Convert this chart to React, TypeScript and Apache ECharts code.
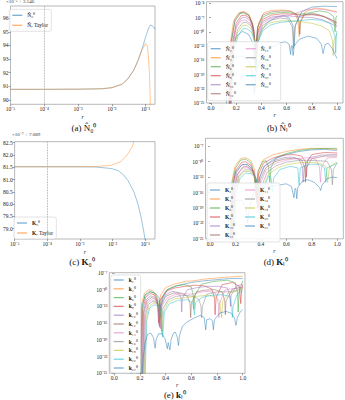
import { useEffect, useRef } from "react";
import * as echarts from "echarts";

// ---------- panel (a): N̂₀⁰ vs Taylor, values are (N − 3.546)·1e5 ----------
const n0ExactR = [1e-5, 1e-4, 1e-3, 5e-3, 1e-2, 2e-2, 3e-2, 4.5e-2, 6e-2, 8e-2, 0.1, 0.12, 0.14, 0.16, 0.19];
const n0Exact = [90.78, 90.78, 90.79, 90.82, 90.9, 91.15, 91.55, 92.2, 92.9, 93.8, 94.6, 95.2, 95.5, 95.45, 95.2];
const n0TaylorR = [1e-5, 1e-4, 1e-3, 5e-3, 1e-2, 2e-2, 3e-2, 4.5e-2, 6e-2, 8e-2, 0.1, 0.112, 0.122, 0.13, 0.136, 0.14];
const n0Taylor = [90.78, 90.78, 90.79, 90.82, 90.9, 91.15, 91.55, 92.2, 92.9, 93.7, 94.15, 94.0, 93.2, 92.0, 90.5, 89.4];

// ---------- panel (c): K₀⁰ vs Taylor, values are (K − 7.089)·1e7 ----------
const k0ExactR = [1e-5, 1e-4, 1e-3, 3e-3, 9e-3, 1.5e-2, 2.2e-2, 3e-2, 4.5e-2, 6e-2, 7.5e-2, 9e-2, 0.1];
const k0Exact = [81.52, 81.52, 81.52, 81.51, 81.45, 81.36, 81.18, 80.95, 80.5, 80.0, 79.45, 78.9, 78.5];
const k0TaylorR = [1e-5, 1e-4, 1e-3, 3e-3, 9e-3, 1.8e-2, 2.8e-2, 4e-2, 4.6e-2];
const k0Taylor = [81.52, 81.52, 81.52, 81.53, 81.58, 81.73, 82.0, 82.34, 82.6];

// ---------- panel (b): |N̂ℓ⁰| as [r, log10 value] ----------
const nHat2 = [[0.155,-26],[0.17,-14],[0.2,-11],[0.25,-9.9],[0.3,-10.6],[0.33,-12.3],[0.355,-18],[0.37,-12.5],[0.4,-9.8],[0.45,-8],[0.52,-6.9],[0.58,-6.6],[0.62,-7.1],[0.65,-8.6],[0.66,-13],[0.67,-8.6],[0.72,-5.8],[0.8,-4.8],[0.9,-4.6],[1.0,-4.7]];
const nHat4 = [[0.14,-26],[0.155,-12],[0.18,-7.6],[0.22,-6],[0.26,-5.7],[0.3,-6.3],[0.33,-8.2],[0.35,-12],[0.356,-16],[0.362,-12],[0.38,-8],[0.42,-6],[0.48,-5.5],[0.56,-5.4],[0.63,-5.6],[0.67,-6.3],[0.69,-7.7],[0.7,-11],[0.71,-7.7],[0.75,-5.7],[0.83,-5],[0.9,-5.2],[1.0,-5.8]];
const nHat6 = [[0.145,-26],[0.16,-12.5],[0.19,-7.8],[0.23,-6.2],[0.26,-6.0],[0.3,-6.6],[0.33,-8.5],[0.355,-14],[0.37,-9],[0.41,-6.9],[0.47,-6.2],[0.55,-5.9],[0.62,-6.0],[0.7,-6.3],[0.78,-6.0],[0.86,-5.6],[0.93,-5.9],[0.975,-6.8],[0.985,-10],[0.992,-7],[1.0,-6.6]];
const nHat8 = [[0.15,-26],[0.165,-13],[0.2,-8.2],[0.24,-6.6],[0.27,-6.5],[0.31,-7.2],[0.34,-9.5],[0.356,-15],[0.37,-10],[0.41,-7.4],[0.48,-6.5],[0.56,-6.2],[0.64,-6.3],[0.72,-6.5],[0.8,-6.4],[0.88,-6.7],[0.95,-7.4],[1.0,-8.2]];
const nHat10 = [[0.15,-26],[0.17,-13.5],[0.2,-8.8],[0.24,-7.1],[0.27,-6.9],[0.31,-7.6],[0.34,-9.8],[0.356,-16],[0.37,-10.5],[0.41,-7.8],[0.48,-6.9],[0.56,-6.6],[0.64,-6.7],[0.72,-6.9],[0.8,-7.0],[0.88,-7.4],[0.95,-8.2],[1.0,-9.0]];
const nHat12 = [[0.145,-26],[0.16,-12],[0.19,-7.4],[0.23,-6.0],[0.26,-5.9],[0.3,-6.5],[0.33,-8.4],[0.355,-13.5],[0.37,-9],[0.41,-6.5],[0.48,-5.8],[0.56,-5.6],[0.63,-5.7],[0.68,-6.3],[0.7,-8],[0.705,-10.5],[0.71,-8],[0.74,-6.4],[0.82,-6.2],[0.9,-6.8],[0.96,-7.8],[1.0,-8.7]];
const nHat14 = [[0.15,-26],[0.17,-13],[0.2,-9.2],[0.24,-7.6],[0.27,-7.5],[0.31,-8.2],[0.34,-10.3],[0.356,-16],[0.37,-11],[0.41,-8.2],[0.47,-7.2],[0.55,-6.8],[0.62,-6.6],[0.68,-6.0],[0.76,-5.3],[0.84,-5.2],[0.92,-5.4],[1.0,-5.9]];
const nHat16 = [[0.155,-26],[0.175,-13.5],[0.21,-9.6],[0.25,-8.1],[0.28,-8.0],[0.32,-8.8],[0.345,-11],[0.357,-17],[0.37,-11.5],[0.41,-8.7],[0.47,-7.6],[0.55,-7.1],[0.61,-7.3],[0.645,-9],[0.655,-13.5],[0.665,-9],[0.7,-6.8],[0.78,-6.2],[0.86,-6.4],[0.94,-7.2],[1.0,-8.0]];
const nHat18 = [[0.16,-26],[0.18,-14],[0.21,-10.2],[0.25,-8.7],[0.28,-8.6],[0.32,-9.4],[0.345,-11.5],[0.357,-17],[0.37,-12],[0.41,-9.2],[0.47,-8.1],[0.55,-7.7],[0.63,-7.7],[0.72,-7.9],[0.8,-8.2],[0.88,-8.8],[0.94,-9.8],[0.965,-12],[0.97,-15],[0.975,-12],[1.0,-10.3]];
const nHat20 = [[0.16,-26],[0.18,-14.5],[0.215,-10.8],[0.25,-9.4],[0.28,-9.3],[0.32,-10],[0.345,-12],[0.357,-18],[0.37,-12.5],[0.41,-9.8],[0.47,-8.6],[0.55,-8.0],[0.63,-7.8],[0.72,-7.6],[0.8,-7.4],[0.88,-7.6],[0.95,-8.3],[0.985,-11],[0.99,-14.5],[0.995,-11],[1.0,-9.8]];
const nHat22 = [[0.12,-26],[0.135,-19],[0.16,-16.5],[0.2,-15.3],[0.25,-15.2],[0.29,-15.9],[0.32,-17.5],[0.345,-23],[0.36,-18],[0.4,-15.2],[0.45,-13.8],[0.5,-13.0],[0.55,-12.3],[0.59,-12.1],[0.62,-12.6],[0.632,-14.8],[0.638,-12.9],[0.645,-13],[0.652,-15],[0.66,-13],[0.7,-11.6],[0.77,-10.9],[0.84,-11.4],[0.875,-12.6],[0.89,-14.6],[0.905,-12.7],[0.93,-12.4],[0.96,-13.4],[1.0,-15.6]];

// ---------- panel (d): |Kℓ⁰| as [r, log10 value] ----------
const kCap2 = [[0.16,-26],[0.175,-15],[0.2,-12],[0.25,-10.6],[0.29,-10.5],[0.33,-11.5],[0.36,-13.5],[0.372,-19],[0.385,-13.5],[0.42,-11],[0.5,-9.5],[0.6,-8.6],[0.7,-8.0],[0.8,-7.7],[0.9,-7.6],[1.0,-7.8]];
const kCap4 = [[0.155,-26],[0.17,-14],[0.195,-11],[0.24,-9.4],[0.28,-9.2],[0.32,-9.8],[0.35,-11.5],[0.365,-17],[0.38,-11.8],[0.42,-9.6],[0.5,-8.6],[0.6,-8.0],[0.7,-7.6],[0.8,-7.4],[0.9,-7.4],[1.0,-7.6]];
const kCap6 = [[0.16,-26],[0.175,-14],[0.2,-11.2],[0.24,-9.7],[0.28,-9.5],[0.32,-10.2],[0.345,-12],[0.36,-17],[0.375,-12],[0.41,-10],[0.44,-9.8],[0.46,-11],[0.47,-14],[0.48,-11],[0.52,-9.2],[0.6,-8.4],[0.7,-7.8],[0.8,-7.5],[0.9,-7.4],[1.0,-7.4]];
const kCap8 = [[0.165,-26],[0.18,-14.5],[0.205,-11.6],[0.25,-10.1],[0.28,-10.0],[0.32,-10.7],[0.35,-12.5],[0.368,-18],[0.38,-12.5],[0.42,-10.3],[0.5,-9.2],[0.58,-8.7],[0.66,-8.6],[0.72,-8.9],[0.75,-10],[0.757,-13],[0.765,-10],[0.8,-8.6],[0.9,-8.2],[1.0,-8.3]];
const kCap10 = [[0.17,-26],[0.185,-15],[0.21,-12],[0.25,-10.6],[0.29,-10.5],[0.33,-11.3],[0.36,-13.3],[0.375,-19],[0.39,-13],[0.43,-10.8],[0.5,-9.8],[0.58,-9.2],[0.65,-9.1],[0.7,-9.5],[0.725,-11],[0.732,-14],[0.74,-11],[0.78,-9.2],[0.88,-8.7],[1.0,-8.6]];
const kCap12 = [[0.17,-26],[0.19,-15.5],[0.215,-12.4],[0.26,-11.0],[0.29,-10.9],[0.33,-11.7],[0.36,-13.6],[0.38,-19],[0.395,-13.5],[0.44,-11.1],[0.51,-10],[0.58,-9.5],[0.66,-9.3],[0.72,-9.6],[0.745,-11.2],[0.75,-14],[0.757,-11.2],[0.8,-9.4],[0.9,-8.9],[1.0,-8.9]];
const kCap14 = [[0.175,-26],[0.19,-15.5],[0.22,-12.4],[0.26,-11.2],[0.3,-11.2],[0.34,-12],[0.37,-14.2],[0.385,-20],[0.4,-14],[0.44,-11.6],[0.52,-10.3],[0.6,-9.7],[0.68,-9.4],[0.76,-9.2],[0.83,-9.5],[0.86,-11],[0.868,-14],[0.876,-11],[0.92,-9.3],[1.0,-9.1]];
const kCap16 = [[0.18,-26],[0.195,-16],[0.225,-12.8],[0.27,-11.6],[0.31,-11.6],[0.35,-12.5],[0.38,-14.6],[0.395,-21],[0.41,-14.5],[0.45,-12],[0.52,-10.8],[0.6,-10.1],[0.68,-9.8],[0.76,-9.7],[0.84,-9.8],[0.92,-9.9],[0.955,-11.5],[0.962,-14.5],[0.97,-11.5],[1.0,-10.2]];
const kCap18 = [[0.18,-26],[0.2,-16],[0.23,-13],[0.27,-11.9],[0.31,-11.9],[0.35,-12.8],[0.385,-15],[0.4,-21],[0.415,-15],[0.46,-12.4],[0.54,-11.1],[0.62,-10.5],[0.7,-10.2],[0.78,-10.1],[0.86,-10.3],[0.91,-10.9],[0.925,-14],[0.94,-11],[1.0,-10.0]];
const kCap20 = [[0.185,-26],[0.2,-16.5],[0.235,-13.3],[0.28,-12.2],[0.32,-12.3],[0.36,-13.2],[0.39,-15.5],[0.405,-22],[0.42,-15.4],[0.46,-12.8],[0.48,-13.2],[0.49,-16],[0.5,-13.2],[0.55,-11.5],[0.63,-10.9],[0.69,-11.2],[0.7,-14.5],[0.71,-11.2],[0.78,-10.5],[0.86,-10.5],[0.9,-11.2],[0.91,-14],[0.92,-11.2],[1.0,-10.3]];
const kCap22 = [[0.13,-26],[0.145,-20],[0.17,-18.3],[0.21,-17.5],[0.25,-17.6],[0.28,-18.8],[0.295,-22],[0.31,-18.8],[0.35,-15.6],[0.4,-15.0],[0.45,-14.9],[0.52,-14.6],[0.6,-14.3],[0.64,-14.8],[0.66,-17],[0.668,-15.2],[0.675,-15.3],[0.682,-17.2],[0.69,-15],[0.73,-13.7],[0.77,-13.5],[0.82,-14],[0.86,-15.0],[0.87,-15.6],[0.88,-14.6],[0.92,-13.3],[0.96,-13],[1.0,-13.1]];

// ---------- panel (e): |kℓ⁰| as [r, log10 value] ----------
const kLow2 = [[0.2,-26],[0.215,-13],[0.24,-11],[0.28,-10.4],[0.32,-10.6],[0.35,-11.5],[0.362,-15],[0.375,-11.5],[0.42,-9.9],[0.5,-9.2],[0.6,-8.7],[0.7,-8.4],[0.8,-8.2],[0.9,-8.0],[1.0,-8.0]];
const kLow4 = [[0.2,-26],[0.212,-12.5],[0.235,-10.6],[0.27,-10.0],[0.3,-10.2],[0.33,-11.2],[0.345,-14],[0.36,-11],[0.4,-9.6],[0.48,-8.9],[0.56,-8.5],[0.62,-8.4],[0.7,-8.1],[0.8,-7.9],[0.9,-7.7],[1.0,-7.6]];
const kLow6 = [[0.205,-26],[0.218,-13],[0.24,-10.9],[0.275,-10.3],[0.31,-10.6],[0.34,-11.8],[0.352,-15.5],[0.365,-11.8],[0.41,-10],[0.48,-9.3],[0.55,-9.1],[0.6,-9.5],[0.615,-11],[0.62,-13.5],[0.627,-11],[0.68,-9],[0.78,-8.5],[0.88,-8.3],[0.94,-8.7],[0.96,-10.5],[0.965,-14],[0.972,-10.5],[1.0,-8.4]];
const kLow8 = [[0.21,-26],[0.222,-13.5],[0.245,-11.3],[0.28,-10.7],[0.31,-10.9],[0.335,-12],[0.345,-16],[0.355,-12],[0.4,-10.3],[0.47,-9.7],[0.55,-9.4],[0.63,-9.2],[0.7,-9.3],[0.76,-9.9],[0.78,-11.5],[0.785,-14.5],[0.792,-11.5],[0.84,-9.1],[0.92,-8.7],[0.975,-9.4],[0.985,-12.5],[0.992,-10],[1.0,-9.1]];
const kLow10 = [[0.215,-26],[0.228,-13.8],[0.25,-11.7],[0.285,-11.1],[0.32,-11.4],[0.34,-12.6],[0.35,-16.5],[0.36,-12.6],[0.4,-10.9],[0.45,-10.3],[0.5,-10.5],[0.52,-11.5],[0.525,-14],[0.53,-11.5],[0.57,-10],[0.65,-9.6],[0.73,-9.4],[0.81,-9.4],[0.88,-9.7],[0.9,-11],[0.905,-13],[0.91,-11],[0.95,-9.4],[1.0,-9.0]];
const kLow12 = [[0.22,-26],[0.232,-14],[0.255,-12],[0.29,-11.4],[0.32,-11.7],[0.345,-12.8],[0.355,-16.8],[0.365,-12.8],[0.4,-11.2],[0.46,-10.6],[0.52,-10.6],[0.57,-11.2],[0.59,-12.5],[0.595,-15],[0.6,-12.5],[0.64,-10.4],[0.7,-10.1],[0.78,-10],[0.84,-10.4],[0.86,-12],[0.865,-14.5],[0.87,-12],[0.92,-9.9],[1.0,-9.5]];
const kLow14 = [[0.225,-26],[0.237,-14.5],[0.26,-12.3],[0.29,-11.8],[0.32,-12],[0.345,-13.2],[0.36,-17],[0.37,-13],[0.41,-11.5],[0.47,-10.9],[0.54,-10.7],[0.61,-10.8],[0.68,-10.4],[0.74,-10.3],[0.79,-10.7],[0.81,-12.5],[0.815,-15],[0.82,-12.5],[0.86,-10.1],[0.92,-9.8],[1.0,-9.6]];
const kLow16 = [[0.23,-26],[0.242,-14.8],[0.265,-12.6],[0.3,-12.1],[0.33,-12.3],[0.355,-13.5],[0.367,-17.5],[0.378,-13.4],[0.42,-11.8],[0.48,-11.2],[0.55,-11],[0.62,-11.2],[0.66,-11.8],[0.675,-13],[0.68,-15],[0.686,-13],[0.72,-10.8],[0.8,-10.4],[0.88,-10.4],[0.94,-10.2],[1.0,-9.8]];
const kLow18 = [[0.235,-26],[0.248,-15.2],[0.27,-13],[0.305,-12.4],[0.335,-12.6],[0.36,-13.8],[0.372,-18],[0.384,-13.8],[0.42,-12.2],[0.48,-11.6],[0.56,-11.4],[0.64,-11.2],[0.72,-11],[0.78,-11.2],[0.82,-12],[0.835,-15],[0.845,-12],[0.89,-10.6],[0.95,-10.3],[1.0,-10.0]];
const kLow20 = [[0.24,-26],[0.253,-15.5],[0.275,-13.3],[0.31,-12.7],[0.34,-12.9],[0.365,-14.1],[0.377,-18.5],[0.39,-14],[0.43,-12.5],[0.5,-11.9],[0.57,-11.8],[0.61,-12.3],[0.625,-14.5],[0.632,-12.4],[0.68,-11.4],[0.76,-11],[0.84,-10.9],[0.9,-11.2],[0.915,-13],[0.92,-15],[0.925,-13],[0.96,-10.6],[1.0,-10.3]];
const kLow22 = [[0.125,-26],[0.135,-23.8],[0.145,-26],[0.172,-26],[0.18,-23.5],[0.19,-26],[0.215,-26],[0.226,-22],[0.24,-19.5],[0.26,-18],[0.285,-17.8],[0.305,-18.6],[0.318,-20.5],[0.325,-19],[0.345,-17.9],[0.37,-17.9],[0.395,-18.8],[0.413,-20.6],[0.42,-19.5],[0.433,-20.8],[0.442,-19],[0.46,-17.8],[0.475,-17.6],[0.49,-18.5],[0.5,-20],[0.507,-18.3],[0.53,-16.6],[0.56,-15.9],[0.62,-15.1],[0.67,-14.6],[0.7,-15.0],[0.712,-17.2],[0.72,-15.4],[0.745,-15.2],[0.765,-15.6],[0.772,-17.2],[0.78,-15.4],[0.82,-14.2],[0.87,-13.9],[0.91,-14.2],[0.935,-15],[0.948,-16.4],[0.958,-15],[0.98,-14],[1.0,-13.6]];

const ELLS = [2, 4, 6, 8, 10, 12, 14, 16, 18, 20, 22];
const nHatCurves = [nHat2, nHat4, nHat6, nHat8, nHat10, nHat12, nHat14, nHat16, nHat18, nHat20, nHat22];
const kCapCurves = [kCap2, kCap4, kCap6, kCap8, kCap10, kCap12, kCap14, kCap16, kCap18, kCap20, kCap22];
const kLowCurves = [kLow2, kLow4, kLow6, kLow8, kLow10, kLow12, kLow14, kLow16, kLow18, kLow20, kLow22];

const linTicks = [0, 0.2, 0.4, 0.6, 0.8, 1.0];
const logTicksB = [-25, -22, -19, -16, -13, -10, -7, -4];
const logTicksDE = [-25, -22, -19, -16, -13, -10, -7];
const decadeTicks = [-5, -4, -3, -2, -1];
const aTicks = [90, 91, 92, 93, 94, 95, 96];
const cTicks = [79, 79.5, 80, 80.5, 81, 81.5, 82, 82.5];

const TAB = ["#1f77b4", "#ff7f0e", "#2ca02c", "#d62728", "#9467bd", "#8c564b", "#e377c2", "#7f7f7f", "#bcbd22", "#17becf", "#1f77b4"];
const SERIF = "Liberation Serif";

const SUP: Record<string, string> = { "-": "⁻", "0": "⁰", "1": "¹", "2": "²", "3": "³", "4": "⁴", "5": "⁵", "6": "⁶", "7": "⁷", "8": "⁸", "9": "⁹" };
const SUB: Record<string, string> = { "0": "₀", "1": "₁", "2": "₂", "3": "₃", "4": "₄", "5": "₅", "6": "₆", "7": "₇", "8": "₈", "9": "₉" };
const sup = (n: number) => String(n).split("").map((c) => SUP[c]).join("");
const sub = (n: number) => String(n).split("").map((c) => SUB[c]).join("");
const pow10 = (v: number) => "10" + sup(Math.round(v));

const nHatName = (l: number) => "N\u0302" + sub(l) + "⁰";
const kCapName = (l: number) => "K" + sub(l) + "⁰";
const kLowName = (l: number) => "k" + sub(l) + "⁰";

const boldFirst = (name: string) => "{b|" + name[0] + "}" + name.slice(1);

function line(name: string, data: number[][], color: string, idx: number, opacity = 0.6) {
  return {
    type: "line",
    name,
    data,
    xAxisIndex: idx,
    yAxisIndex: idx,
    symbol: "none",
    showSymbol: false,
    clip: true,
    silent: true,
    lineStyle: { color, width: 0.8, opacity },
    itemStyle: { color, opacity },
  };
}

const zip = (xs: number[], ys: number[]) => xs.map((x, i) => [Math.log10(x), ys[i]]);

const labelStyle = { fontFamily: SERIF, fontSize: 5.5, color: "#222", margin: 2 };
const tickStyle = { show: true, length: 2, lineStyle: { color: "#444", width: 0.5 } };

function xAxisLin(idx: number, min: number, max: number) {
  return {
    type: "value", gridIndex: idx, min, max,
    axisLine: { show: false },
    axisTick: { ...tickStyle, customValues: linTicks },
    axisLabel: { ...labelStyle, customValues: linTicks, formatter: (v: number) => v.toFixed(1) },
    splitLine: { show: false },
    name: "r", nameLocation: "middle", nameGap: 9,
    nameTextStyle: { fontFamily: SERIF, fontStyle: "italic", fontSize: 6, color: "#222" },
  };
}
function xAxisLog(idx: number, min: number, max: number) {
  return {
    type: "value", gridIndex: idx, min, max,
    axisLine: { show: false },
    axisTick: { ...tickStyle, customValues: decadeTicks },
    axisLabel: { ...labelStyle, customValues: decadeTicks, formatter: pow10 },
    splitLine: { show: false },
    name: "r", nameLocation: "middle", nameGap: 10,
    nameTextStyle: { fontFamily: SERIF, fontStyle: "italic", fontSize: 6, color: "#222" },
  };
}
function yAxisVals(idx: number, min: number, max: number, ticks: number[], fmt: (v: number) => string) {
  return {
    type: "value", gridIndex: idx, min, max,
    axisLine: { show: false },
    axisTick: { ...tickStyle, customValues: ticks },
    axisLabel: { ...labelStyle, customValues: ticks, formatter: fmt },
    splitLine: { show: false },
  };
}

const gridBase = { show: true, borderColor: "#9a9a9a", borderWidth: 0.7, backgroundColor: "#fff" };

const legendText = {
  fontFamily: SERIF, fontSize: 5.5, color: "#111", lineHeight: 6,
  rich: { b: { fontFamily: SERIF, fontSize: 5.5, fontWeight: "bold", color: "#111" } },
};

function legendBox(extra: any) {
  return {
    orient: "vertical",
    selectedMode: false,
    backgroundColor: "rgba(255,255,255,0.85)",
    borderColor: "#d0d0d0",
    borderWidth: 0.6,
    borderRadius: 2,
    icon: "rect",
    itemWidth: 10,
    itemHeight: 1.3,
    itemGap: 3,
    padding: [4, 3],
    itemStyle: { opacity: 0.6 },
    textStyle: legendText,
    ...extra,
  };
}

function caption(text: string, x: number, y: number) {
  return {
    type: "text",
    x, y,
    style: {
      text,
      fontFamily: SERIF,
      fontSize: 9,
      fill: "#111",
      align: "center",
      verticalAlign: "middle",
      rich: { b: { fontFamily: SERIF, fontSize: 9, fontWeight: "bold", fill: "#111" } },
    },
  };
}

function offsetText(text: string, x: number, y: number) {
  return {
    type: "text", x, y,
    style: { text, fontFamily: SERIF, fontSize: 5, fill: "#333", verticalAlign: "middle" },
  };
}

export default function App() {
  const ref = useRef<HTMLDivElement>(null);

  useEffect(() => {
    if (!ref.current) return;
    const chart = echarts.init(ref.current, undefined, { renderer: "svg" });

    const vline = {
      silent: true,
      symbol: "none",
      label: { show: false },
      lineStyle: { color: "#9a9a9a", type: "dotted", width: 0.8 },
      data: [{ xAxis: -4 }],
    };

    const series: any[] = [
      { ...line("N\u0302" + sub(0) + "⁰", zip(n0ExactR, n0Exact), TAB[0], 0, 0.55), markLine: vline },
      line("N\u0302, Taylor", zip(n0TaylorR, n0Taylor), TAB[1], 0, 0.55),
      { ...line("K" + sub(0) + "⁰", zip(k0ExactR, k0Exact), TAB[0], 2, 0.55), markLine: vline },
      line("K, Taylor", zip(k0TaylorR, k0Taylor), TAB[1], 2, 0.55),
    ];
    ELLS.forEach((l, i) => series.push(line(nHatName(l), nHatCurves[i], TAB[i], 1)));
    ELLS.forEach((l, i) => series.push(line(kCapName(l), kCapCurves[i], TAB[i], 3)));
    ELLS.forEach((l, i) => series.push(line(kLowName(l), kLowCurves[i], TAB[i], 4)));

    chart.setOption({
      animation: false,
      backgroundColor: "#fff",
      grid: [
        { ...gridBase, left: 4, top: 6, width: 151, height: 98.3 },
        { ...gridBase, left: 206.5, top: 1.7, width: 136.5, height: 101.3 },
        { ...gridBase, left: 11, top: 141.7, width: 144, height: 97.3 },
        { ...gridBase, left: 205.5, top: 138.3, width: 137.8, height: 100.5 },
        { ...gridBase, left: 109.3, top: 272.7, width: 135.7, height: 100.6 },
      ],
      xAxis: [
        xAxisLog(0, -5, -0.72),
        xAxisLin(1, -0.036, 1.048),
        xAxisLog(2, -5, -0.7),
        xAxisLin(3, -0.036, 1.048),
        xAxisLin(4, -0.039, 1.018),
      ],
      yAxis: [
        yAxisVals(0, 89.68, 96.9, aTicks, (v) => String(v)),
        yAxisVals(1, -25, -3.66, logTicksB, pow10),
        yAxisVals(2, 78.58, 82.54, cTicks, (v) => v.toFixed(1)),
        yAxisVals(3, -25, -5.44, logTicksDE, pow10),
        yAxisVals(4, -25, -6.95, logTicksDE, pow10),
      ],
      legend: [
        legendBox({ left: 9.3, top: 9.3, padding: [3, 3], itemGap: 4, data: ["N\u0302" + sub(0) + "⁰", "N\u0302, Taylor"] }),
        legendBox({ left: 207.7, top: 41.7, height: 52, textStyle: { ...legendText, width: 17 }, data: ELLS.map(nHatName) }),
        legendBox({ left: 14, top: 217, padding: [3, 3], itemGap: 4, data: ["K" + sub(0) + "⁰", "K, Taylor"], formatter: boldFirst }),
        legendBox({ left: 207, top: 183, height: 52, data: ELLS.map(kCapName), formatter: boldFirst, textStyle: { ...legendText, width: 17 } }),
        legendBox({ left: 110.7, top: 275, padding: [2, 3], itemGap: 2.8, data: ELLS.map(kLowName), formatter: boldFirst }),
      ],
      graphic: [
        offsetText("×10⁻⁵ + 3.546", 6, 1.5),
        offsetText("×10⁻⁷ + 7.089", 12, 134),
        caption("(a) N\u0302" + sub(0) + "⁰", 84, 128),
        caption("(b) N\u0302ₗ⁰", 279, 128),
        caption("(c) {b|K}" + sub(0) + "⁰", 82, 262),
        caption("(d) {b|K}ₗ⁰", 276, 262),
        caption("(e) {b|k}ₗ⁰", 175, 395),
      ],
      series,
    });

    return () => chart.dispose();
  }, []);

  return <div ref={ref} style={{ position: "absolute", left: 0, top: 0, width: 345, height: 400 }} />;
}
